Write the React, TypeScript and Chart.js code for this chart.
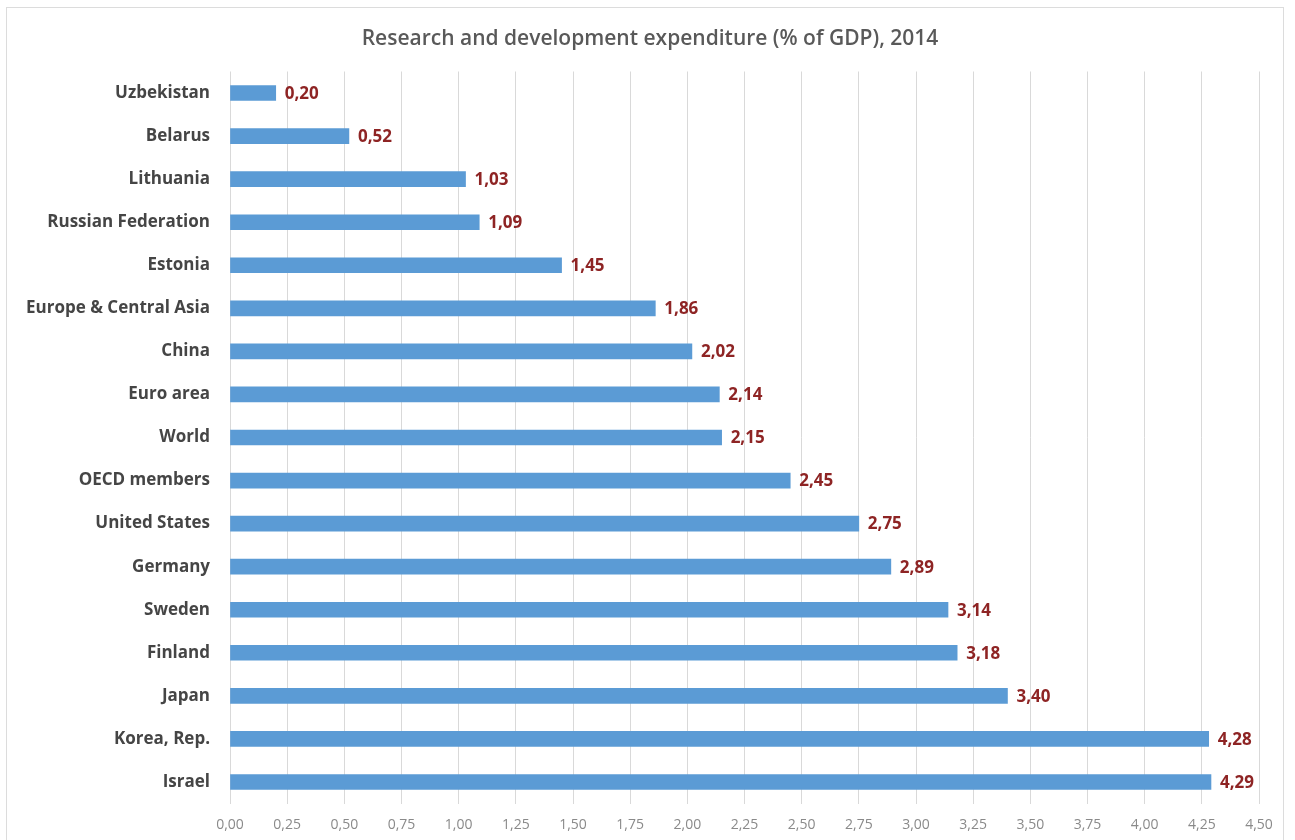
import React, { useEffect, useRef } from "react";
import { Chart, registerables } from "chart.js";

Chart.register(...registerables);

const categories: string[] = [
  "Uzbekistan",
  "Belarus",
  "Lithuania",
  "Russian Federation",
  "Estonia",
  "Europe & Central Asia",
  "China",
  "Euro area",
  "World",
  "OECD members",
  "United States",
  "Germany",
  "Sweden",
  "Finland",
  "Japan",
  "Korea, Rep.",
  "Israel",
];

const values: number[] = [
  0.2, 0.52, 1.03, 1.09, 1.45, 1.86, 2.02, 2.14, 2.15, 2.45, 2.75, 2.89, 3.14, 3.18, 3.4, 4.28, 4.29,
];

const titleText = "Research and development expenditure (% of GDP), 2014";
const xMin = 0;
const xMax = 4.5;
const xStep = 0.25;

const fmt = (v: number) => v.toFixed(2).replace(".", ",");

const FONT = "'Open Sans', 'Noto Sans', sans-serif";

export default function App() {
  const ref = useRef<HTMLCanvasElement | null>(null);

  useEffect(() => {
    if (!ref.current) return;

    const decor = {
      id: "decor",
      beforeDraw(chart: any) {
        const ctx = chart.ctx;
        ctx.save();
        ctx.fillStyle = "#ffffff";
        ctx.fillRect(0, 0, chart.width, chart.height);
        ctx.strokeStyle = "#dcdcdc";
        ctx.lineWidth = 1;
        ctx.strokeRect(6.5, 7.5, 1277, 900);
        ctx.fillStyle = "#595959";
        ctx.font = `600 21px ${FONT}`;
        ctx.textAlign = "center";
        ctx.textBaseline = "middle";
        ctx.fillText(titleText, 650, 39);
        ctx.restore();
      },
      afterDatasetsDraw(chart: any) {
        const ctx = chart.ctx;
        const meta = chart.getDatasetMeta(0);
        ctx.save();
        ctx.fillStyle = "#8e2424";
        ctx.font = `bold 17px ${FONT}`;
        ctx.textAlign = "left";
        ctx.textBaseline = "middle";
        meta.data.forEach((el: any, i: number) => {
          ctx.fillText(fmt(values[i]), el.x + 9, el.y + 1);
        });
        ctx.restore();
      },
    };

    const chart = new Chart(ref.current, {
      type: "bar",
      data: {
        labels: categories,
        datasets: [
          {
            data: values,
            backgroundColor: "#5b9bd5",
            barThickness: 15,
          },
        ],
      },
      options: {
        indexAxis: "y",
        animation: false,
        responsive: false,
        maintainAspectRatio: false,
        layout: { padding: { top: 71.5, right: 36, left: 0, bottom: 0 } },
        plugins: {
          legend: { display: false },
          tooltip: { enabled: false },
          title: { display: false },
        },
        scales: {
          x: {
            min: xMin,
            max: xMax,
            ticks: {
              stepSize: xStep,
              color: "#8a8a8a",
              font: { family: FONT, size: 14 },
              padding: 13,
              callback: (v: any) => fmt(Number(v)),
            },
            grid: { color: "#d9d9d9", drawTicks: false },
            border: { display: false },
            afterFit: (s: any) => {
              s.height = 36.5;
            },
          },
          y: {
            ticks: {
              color: "#454545",
              font: { family: FONT, size: 17, weight: "bold" },
              padding: 20,
            },
            grid: { display: false, drawTicks: false },
            border: { display: false },
            afterFit: (s: any) => {
              s.width = 230;
            },
          },
        },
      },
      plugins: [decor],
    } as any);

    return () => chart.destroy();
  }, []);

  return (
    <div style={{ position: "fixed", left: 0, top: 0, width: 1295, height: 840, background: "#fff" }}>
      <canvas ref={ref} width={1295} height={840} style={{ width: 1295, height: 840, display: "block" }} />
    </div>
  );
}
